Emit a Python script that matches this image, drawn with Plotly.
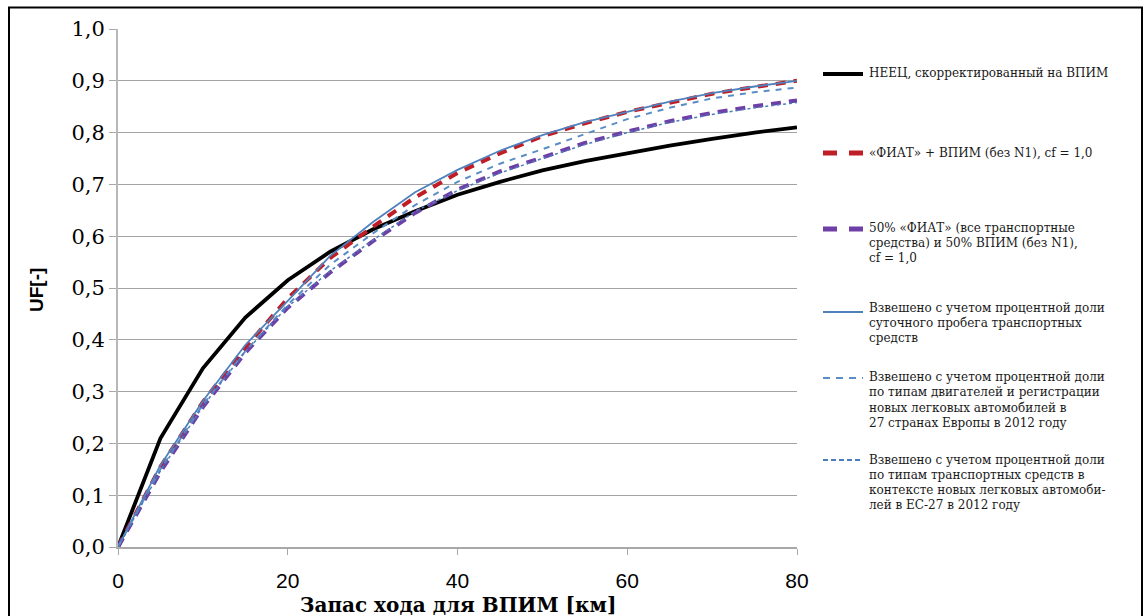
import plotly.graph_objects as go

# Electric range in km and utility factor curves
range_km = [0, 5, 10, 15, 20, 25, 30, 35, 40, 45, 50, 55, 60, 65, 70, 75, 80]

uf_neec = [0.0, 0.21, 0.345, 0.443, 0.515, 0.57, 0.613, 0.648, 0.68, 0.705,
           0.727, 0.745, 0.76, 0.775, 0.788, 0.80, 0.81]
uf_fiat_ovc = [0.0, 0.155, 0.28, 0.385, 0.48, 0.558, 0.618, 0.675, 0.722, 0.76,
               0.793, 0.818, 0.84, 0.858, 0.875, 0.888, 0.90]
uf_fiat_half = [0.0, 0.145, 0.27, 0.375, 0.462, 0.53, 0.59, 0.645, 0.69, 0.725,
                0.752, 0.78, 0.802, 0.822, 0.838, 0.851, 0.862]
uf_daily_mileage = [0.0, 0.158, 0.282, 0.39, 0.475, 0.562, 0.627, 0.685, 0.728, 0.765,
                    0.795, 0.82, 0.84, 0.86, 0.876, 0.889, 0.90]
uf_engine_types = [0.0, 0.15, 0.275, 0.378, 0.468, 0.545, 0.605, 0.66, 0.705, 0.74,
                   0.768, 0.797, 0.826, 0.848, 0.866, 0.878, 0.887]
uf_vehicle_types = [0.0, 0.147, 0.272, 0.377, 0.464, 0.533, 0.592, 0.648, 0.688, 0.722,
                    0.75, 0.777, 0.8, 0.82, 0.835, 0.848, 0.858]

x_ticks = [0, 20, 40, 60, 80]

legend_lines = [
    ["НЕЕЦ, скорректированный на ВПИМ"],
    ["«ФИАТ» + ВПИМ (без N1), cf = 1,0"],
    ["50% «ФИАТ» (все транспортные", "средства) и 50% ВПИМ (без N1),", "cf = 1,0"],
    ["Взвешено с учетом процентной доли", "суточного пробега транспортных", "средств"],
    ["Взвешено с учетом процентной доли", "по типам двигателей и регистрации",
     "новых легковых автомобилей в", "27 странах Европы в 2012 году"],
    ["Взвешено с учетом процентной доли", "по типам транспортных средств в",
     "контексте новых легковых автомоби-", "лей в ЕС-27 в 2012 году"],
]

SERIF = "DejaVu Serif, Liberation Serif, serif"
SANS = "Liberation Sans, Arial, sans-serif"

RED = "#bf1e26"
PURPLE = "#6e3fa6"
BLUE = "#4f81bd"
BLUE2 = "#5a8cc6"
BLUE3 = "#4a7cbb"

styles = [
    dict(color="#000000", width=3.8, dash="solid"),
    dict(color=RED, width=4, dash="10px,8px"),
    dict(color=PURPLE, width=4, dash="10px,8px"),
    dict(color=BLUE, width=1.8, dash="solid"),
    dict(color=BLUE2, width=2, dash="6px,6px"),
    dict(color=BLUE3, width=1.5, dash="3px,3px"),
]
series = [uf_neec, uf_fiat_ovc, uf_fiat_half, uf_daily_mileage, uf_engine_types, uf_vehicle_types]

fig = go.Figure()
for vals, st, lines in zip(series, styles, legend_lines):
    fig.add_trace(go.Scatter(x=range_km, y=vals, mode="lines", line=st,
                             name=" ".join(lines), showlegend=False))

# plot area in pixels: x 118..797, y 29..547
L, R, T, B = 118, 797, 29, 547
W_PX, H_PX = 1146, 616


def px_x(px):
    return (px - L) / (R - L)


def px_y(py):
    return (B - py) / (B - T)


shapes = []
annotations = []

# outer frame
shapes.append(dict(type="rect", xref="paper", yref="paper",
                   x0=px_x(9), x1=px_x(1142), y0=px_y(630), y1=px_y(7.5),
                   line=dict(color="#000000", width=2), fillcolor="rgba(0,0,0,0)",
                   layer="below"))

# legend: sample line position and text line positions
sample_y = [74, 153, 229, 312, 378, 460]
text_rows = [[73], [153], [228, 243, 258], [308, 323, 338],
             [377, 392, 408, 423], [460, 475, 490, 505]]
sample_styles = [
    dict(color="#000000", width=4, dash="solid"),
    dict(color=RED, width=5, dash="14px,12px"),
    dict(color=PURPLE, width=5, dash="14px,12px"),
    dict(color=BLUE, width=2, dash="solid"),
    dict(color=BLUE2, width=2, dash="7px,6px"),
    dict(color=BLUE3, width=2, dash="5px,3px"),
]
for sy, st, rows, lines in zip(sample_y, sample_styles, text_rows, legend_lines):
    shapes.append(dict(type="line", xref="paper", yref="paper",
                       x0=px_x(823), x1=px_x(863), y0=px_y(sy), y1=px_y(sy),
                       line=st))
    for ry, txt in zip(rows, lines):
        annotations.append(dict(xref="paper", yref="paper", x=px_x(867), y=px_y(ry),
                                xanchor="left", yanchor="middle", showarrow=False,
                                text=txt,
                                font=dict(family=SERIF, size=12, color="#1a1a1a")))

# axis titles
annotations.append(dict(xref="paper", yref="paper", x=px_x(36), y=px_y(290),
                        xanchor="center", yanchor="middle", showarrow=False,
                        text="UF[-]", textangle=-90,
                        font=dict(family=SANS, size=19, color="#000000",
                                  weight="bold")))
annotations.append(dict(xref="paper", yref="paper", x=px_x(458), y=px_y(605),
                        xanchor="center", yanchor="middle", showarrow=False,
                        text="Запас хода для ВПИМ [км]",
                        font=dict(family=SERIF, size=20, color="#000000",
                                  weight="bold")))

fig.update_layout(
    width=W_PX, height=H_PX,
    margin=dict(l=L, r=W_PX - R, t=T, b=H_PX - B, pad=0),
    paper_bgcolor="white", plot_bgcolor="white",
    separators=", ",
    shapes=shapes, annotations=annotations,
    showlegend=False,
)
fig.update_xaxes(range=[0, 80], tickvals=x_ticks, showgrid=False, zeroline=False,
                 showline=True, linecolor="#a8a8a8", linewidth=1.5,
                 ticks="outside", ticklen=6, tickwidth=1.2, tickcolor="#a8a8a8",
                 ticklabelstandoff=8,
                 tickfont=dict(family=SANS, size=21, color="#000000"))
fig.update_yaxes(range=[0, 1], dtick=0.1, tick0=0, tickformat=".1f",
                 showgrid=True, gridcolor="#a3a3a3", gridwidth=1.3, zeroline=False,
                 showline=True, linecolor="#b8b8b8", linewidth=2,
                 ticks="outside", ticklen=7, tickwidth=1.2, tickcolor="#a8a8a8",
                 ticklabelstandoff=0,
                 tickfont=dict(family=SERIF, size=21, color="#000000"))

fig.write_html("out.html")
